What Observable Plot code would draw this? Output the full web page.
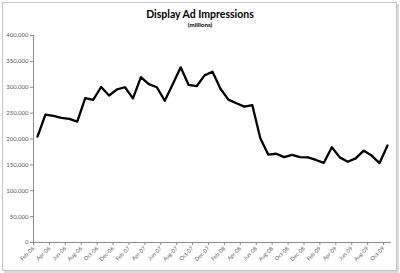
<!DOCTYPE html>
<html>
<head>
<meta charset="utf-8">
<script src="https://cdn.jsdelivr.net/npm/d3@7"></script>
<script src="https://cdn.jsdelivr.net/npm/@observablehq/plot@0.6"></script>
<style>
  html, body { margin: 0; padding: 0; background: #fff; }
  body { width: 400px; height: 273px; position: relative; overflow: hidden; font-family: Lato, "Open Sans", sans-serif; }
  #frame { position: absolute; left: 2px; top: 2px; width: 393px; height: 267px; border: 1px solid #c4c4c4; box-shadow: 2px 2px 0 #dcdcdc; box-sizing: content-box; }
  #head { position: relative; height: 30px; text-align: center; }
  #title { position: absolute; left: 0; right: 0; top: 8px; font-size: 10.5px; font-weight: bold; color: #000; line-height: 12px; }
  #sub { position: absolute; left: 0; right: 0; top: 21px; font-size: 6.2px; font-weight: bold; color: #000; line-height: 7px; }
  #chart { position: relative; }
</style>
</head>
<body>
<div id="frame"></div>
<div id="head"><div id="title">Display Ad Impressions</div><div id="sub">(millions)</div></div>
<div id="chart"></div>
<script>
const months = ["Feb-06","Mar-06","Apr-06","May-06","Jun-06","Jul-06","Aug-06","Sep-06","Oct-06","Nov-06","Dec-06",
  "Jan-07","Feb-07","Mar-07","Apr-07","May-07","Jun-07","Jul-07","Aug-07","Sep-07","Oct-07","Nov-07","Dec-07",
  "Jan-08","Feb-08","Mar-08","Apr-08","May-08","Jun-08","Jul-08","Aug-08","Sep-08","Oct-08","Nov-08","Dec-08",
  "Jan-09","Feb-09","Mar-09","Apr-09","May-09","Jun-09","Jul-09","Aug-09","Sep-09","Oct-09"];
const impressions = [204500, 247000, 244500, 241000, 239000, 233500, 279000, 275500, 300500, 284000, 296000, 300000,
  278500, 319500, 306000, 300000, 274000, 306000, 338500, 304500, 302000, 323000, 330000,
  297000, 276000, 269000, 262500, 265500, 202000, 170000, 171500, 165000, 169500, 165000, 164500, 159500,
  154000, 184000, 164500, 156000, 162500, 177500, 168000, 153500, 187500];
const yTicks = [0, 50000, 100000, 150000, 200000, 250000, 300000, 350000, 400000];

const data = months.map((m, i) => ({i, month: m, value: impressions[i]}));
const labelIdx = months.map((m, i) => i).filter(i => i % 2 === 0);
const xDomain = [-0.5, months.length - 0.5];

const chart = Plot.plot({
  width: 400,
  height: 243,
  marginTop: 5,
  marginBottom: 31,
  marginLeft: 33,
  marginRight: 9,
  style: {fontFamily: "Lato, 'Open Sans', sans-serif", background: "transparent", color: "#595959"},
  x: {domain: xDomain, axis: null},
  y: {domain: [0, 400000], axis: null},
  marks: [
    Plot.ruleY([0], {x1: xDomain[0], x2: xDomain[1], stroke: "#8c8c8c", strokeWidth: 1}),
    Plot.ruleX([xDomain[0]], {y1: 0, y2: 400000, stroke: "#8c8c8c", strokeWidth: 1}),
    Plot.axisY({ticks: yTicks, tickFormat: d3.format(","), tickSize: 3, tickPadding: 2, stroke: "#8c8c8c",
      fontSize: 6, fill: "#595959", label: null}),
    Plot.axisX({ticks: labelIdx.map(i => i - 0.5), tickFormat: d => months[d + 0.5], tickSize: 3, tickPadding: 2,
      tickRotate: -45, stroke: "#8c8c8c", fontSize: 5.5, fill: "#595959", label: null}),
    Plot.line(data, {x: "i", y: "value", stroke: "#000", strokeWidth: 2.3, strokeLinejoin: "round", strokeLinecap: "round"})
  ]
});
document.getElementById("chart").appendChild(chart);
</script>
</body>
</html>
